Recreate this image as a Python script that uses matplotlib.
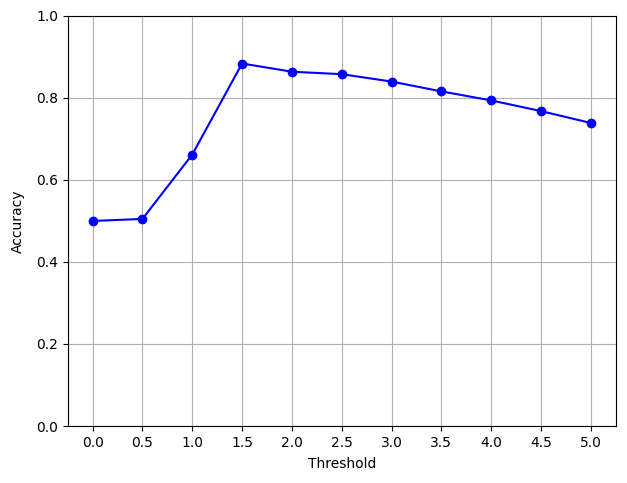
import matplotlib
matplotlib.use("Agg")
import matplotlib.pyplot as plt

# seuils et précision
thresholds = [0.0, 0.5, 1.0, 1.5, 2.0, 2.5, 3.0, 3.5, 4.0, 4.5, 5.0]
accuracy = [0.500, 0.505, 0.662, 0.884, 0.864, 0.858, 0.840, 0.816, 0.794, 0.768, 0.739]

fig = plt.figure(figsize=(6.27, 4.83), dpi=100)
ax = fig.add_subplot(111)
fig.subplots_adjust(left=0.108, right=0.982, top=0.967, bottom=0.118)

ax.plot(thresholds, accuracy, marker="o", color="blue")

ax.set_xticks(thresholds)
ax.set_ylim(0, 1)
ax.set_xlabel("Threshold", labelpad=5)
ax.set_ylabel("Accuracy", labelpad=8)
ax.grid(True)

plt.savefig("out.png", dpi=100)
